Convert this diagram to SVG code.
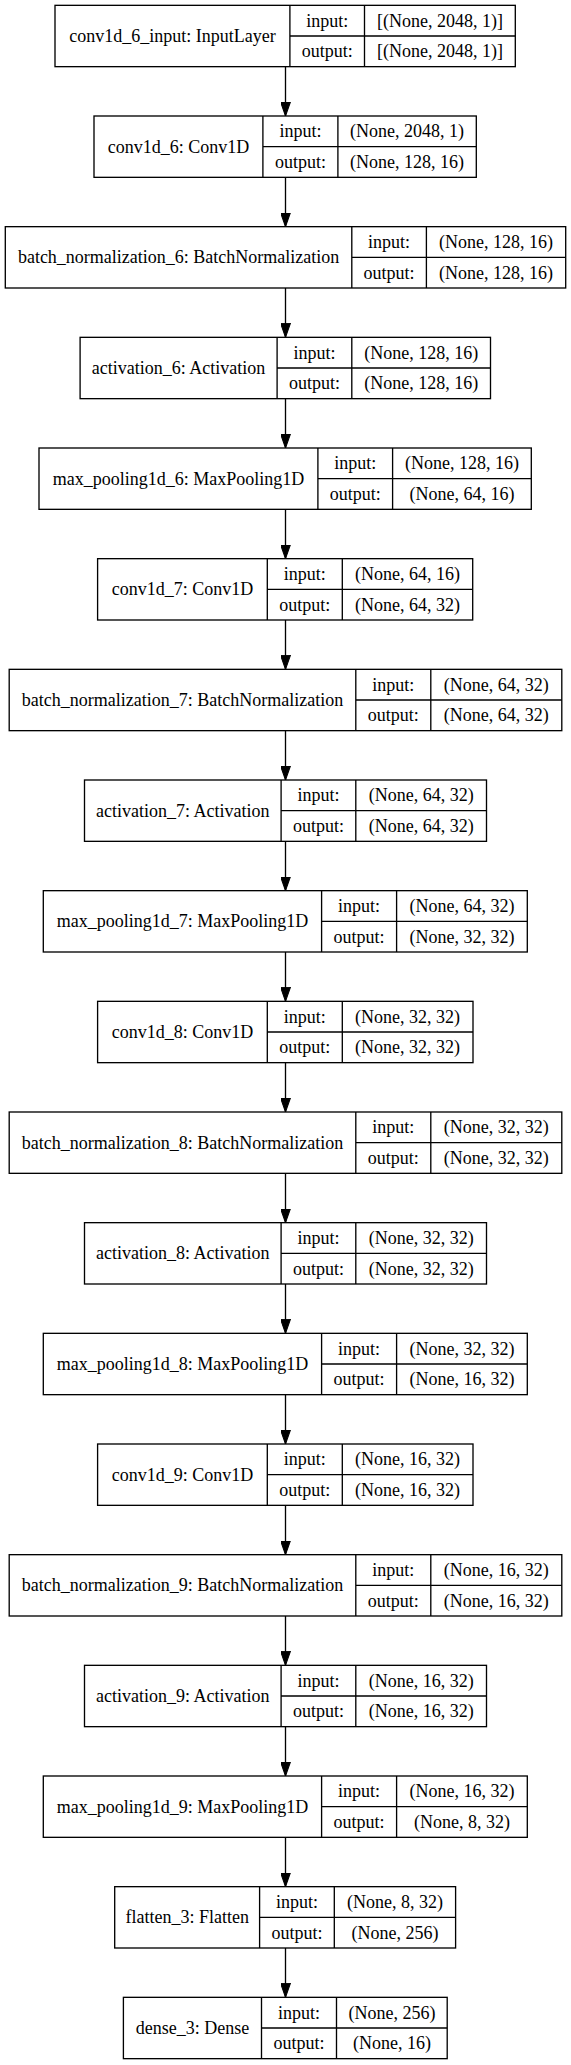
<svg xmlns="http://www.w3.org/2000/svg" width="571" height="2065" viewBox="0 0 571 2065">
<style>
.b{fill:#fff;stroke:#000;stroke-width:1.33}
.l{stroke:#000;stroke-width:1.33;fill:none}
.t{font-family:"Liberation Serif","Times New Roman",serif;font-size:18px;fill:#000;text-anchor:middle}
</style>
<defs>
<marker id="ah" markerUnits="userSpaceOnUse" markerWidth="14" markerHeight="10" viewBox="0 0 13.33 9.33" refX="13.33" refY="4.67" orient="auto">
<path d="M0,0 L13.33,4.67 L0,9.33 z" fill="#000" stroke="#000" stroke-width="1"/>
</marker>
</defs>
<rect width="571" height="2065" fill="#fff"/>
<g id="connectors">
<line class="l" x1="285.5" y1="66.67" x2="285.5" y2="116" marker-end="url(#ah)"/>
<line class="l" x1="285.5" y1="177.33" x2="285.5" y2="226.67" marker-end="url(#ah)"/>
<line class="l" x1="285.5" y1="288" x2="285.5" y2="337.33" marker-end="url(#ah)"/>
<line class="l" x1="285.5" y1="398.67" x2="285.5" y2="448" marker-end="url(#ah)"/>
<line class="l" x1="285.5" y1="509.33" x2="285.5" y2="558.67" marker-end="url(#ah)"/>
<line class="l" x1="285.5" y1="620" x2="285.5" y2="669.33" marker-end="url(#ah)"/>
<line class="l" x1="285.5" y1="730.67" x2="285.5" y2="780" marker-end="url(#ah)"/>
<line class="l" x1="285.5" y1="841.33" x2="285.5" y2="890.67" marker-end="url(#ah)"/>
<line class="l" x1="285.5" y1="952" x2="285.5" y2="1001.33" marker-end="url(#ah)"/>
<line class="l" x1="285.5" y1="1062.67" x2="285.5" y2="1112" marker-end="url(#ah)"/>
<line class="l" x1="285.5" y1="1173.33" x2="285.5" y2="1222.67" marker-end="url(#ah)"/>
<line class="l" x1="285.5" y1="1284" x2="285.5" y2="1333.33" marker-end="url(#ah)"/>
<line class="l" x1="285.5" y1="1394.67" x2="285.5" y2="1444" marker-end="url(#ah)"/>
<line class="l" x1="285.5" y1="1505.33" x2="285.5" y2="1554.67" marker-end="url(#ah)"/>
<line class="l" x1="285.5" y1="1616" x2="285.5" y2="1665.33" marker-end="url(#ah)"/>
<line class="l" x1="285.5" y1="1726.67" x2="285.5" y2="1776" marker-end="url(#ah)"/>
<line class="l" x1="285.5" y1="1837.33" x2="285.5" y2="1886.67" marker-end="url(#ah)"/>
<line class="l" x1="285.5" y1="1948" x2="285.5" y2="1997.33" marker-end="url(#ah)"/>
</g>
<g id="n1" transform="translate(0,5.33)">
<rect class="b" x="55" y="0" width="460.3" height="61.33"/>
<path class="l" d="M289.9,0V61.33M364.5,0V61.33M289.9,30.67H515.3"/>
<text class="t" x="172.5" y="36.5">conv1d_6_input: InputLayer</text>
<text class="t" x="327.2" y="21.3">input:</text><text class="t" x="439.9" y="21.3">[(None, 2048, 1)]</text>
<text class="t" x="327.2" y="52">output:</text><text class="t" x="439.9" y="52">[(None, 2048, 1)]</text>
</g>
<g id="n2" transform="translate(0,116)">
<rect class="b" x="94" y="0" width="382.3" height="61.33"/>
<path class="l" d="M262.9,0V61.33M337.9,0V61.33M262.9,30.67H476.3"/>
<text class="t" x="178.5" y="36.5">conv1d_6: Conv1D</text>
<text class="t" x="300.4" y="21.3">input:</text><text class="t" x="407.1" y="21.3">(None, 2048, 1)</text>
<text class="t" x="300.4" y="52">output:</text><text class="t" x="407.1" y="52">(None, 128, 16)</text>
</g>
<g id="n3" transform="translate(0,226.67)">
<rect class="b" x="5.3" y="0" width="560.4" height="61.33"/>
<path class="l" d="M351.8,0V61.33M426.4,0V61.33M351.8,30.67H565.7"/>
<text class="t" x="178.6" y="36.5">batch_normalization_6: BatchNormalization</text>
<text class="t" x="389.1" y="21.3">input:</text><text class="t" x="496" y="21.3">(None, 128, 16)</text>
<text class="t" x="389.1" y="52">output:</text><text class="t" x="496" y="52">(None, 128, 16)</text>
</g>
<g id="n4" transform="translate(0,337.33)">
<rect class="b" x="80.1" y="0" width="410.4" height="61.33"/>
<path class="l" d="M277.1,0V61.33M351.8,0V61.33M277.1,30.67H490.5"/>
<text class="t" x="178.6" y="36.5">activation_6: Activation</text>
<text class="t" x="314.5" y="21.3">input:</text><text class="t" x="421.2" y="21.3">(None, 128, 16)</text>
<text class="t" x="314.5" y="52">output:</text><text class="t" x="421.2" y="52">(None, 128, 16)</text>
</g>
<g id="n5" transform="translate(0,448)">
<rect class="b" x="39" y="0" width="492.3" height="61.33"/>
<path class="l" d="M317.9,0V61.33M392.6,0V61.33M317.9,30.67H531.3"/>
<text class="t" x="178.5" y="36.5">max_pooling1d_6: MaxPooling1D</text>
<text class="t" x="355.3" y="21.3">input:</text><text class="t" x="462" y="21.3">(None, 128, 16)</text>
<text class="t" x="355.3" y="52">output:</text><text class="t" x="462" y="52">(None, 64, 16)</text>
</g>
<g id="n6" transform="translate(0,558.67)">
<rect class="b" x="97.6" y="0" width="375.1" height="61.33"/>
<path class="l" d="M267.3,0V61.33M342.3,0V61.33M267.3,30.67H472.7"/>
<text class="t" x="182.5" y="36.5">conv1d_7: Conv1D</text>
<text class="t" x="304.8" y="21.3">input:</text><text class="t" x="407.5" y="21.3">(None, 64, 16)</text>
<text class="t" x="304.8" y="52">output:</text><text class="t" x="407.5" y="52">(None, 64, 32)</text>
</g>
<g id="n7" transform="translate(0,669.33)">
<rect class="b" x="9.2" y="0" width="552.6" height="61.33"/>
<path class="l" d="M355.8,0V61.33M430.8,0V61.33M355.8,30.67H561.8"/>
<text class="t" x="182.5" y="36.5">batch_normalization_7: BatchNormalization</text>
<text class="t" x="393.3" y="21.3">input:</text><text class="t" x="496.3" y="21.3">(None, 64, 32)</text>
<text class="t" x="393.3" y="52">output:</text><text class="t" x="496.3" y="52">(None, 64, 32)</text>
</g>
<g id="n8" transform="translate(0,780)">
<rect class="b" x="84.5" y="0" width="402" height="61.33"/>
<path class="l" d="M281.1,0V61.33M355.8,0V61.33M281.1,30.67H486.5"/>
<text class="t" x="182.8" y="36.5">activation_7: Activation</text>
<text class="t" x="318.5" y="21.3">input:</text><text class="t" x="421.2" y="21.3">(None, 64, 32)</text>
<text class="t" x="318.5" y="52">output:</text><text class="t" x="421.2" y="52">(None, 64, 32)</text>
</g>
<g id="n9" transform="translate(0,890.67)">
<rect class="b" x="43.3" y="0" width="484" height="61.33"/>
<path class="l" d="M321.6,0V61.33M396.6,0V61.33M321.6,30.67H527.3"/>
<text class="t" x="182.5" y="36.5">max_pooling1d_7: MaxPooling1D</text>
<text class="t" x="359.1" y="21.3">input:</text><text class="t" x="462" y="21.3">(None, 64, 32)</text>
<text class="t" x="359.1" y="52">output:</text><text class="t" x="462" y="52">(None, 32, 32)</text>
</g>
<g id="n10" transform="translate(0,1001.33)">
<rect class="b" x="97.6" y="0" width="375.4" height="61.33"/>
<path class="l" d="M267.3,0V61.33M342.3,0V61.33M267.3,30.67H473"/>
<text class="t" x="182.5" y="36.5">conv1d_8: Conv1D</text>
<text class="t" x="304.8" y="21.3">input:</text><text class="t" x="407.6" y="21.3">(None, 32, 32)</text>
<text class="t" x="304.8" y="52">output:</text><text class="t" x="407.6" y="52">(None, 32, 32)</text>
</g>
<g id="n11" transform="translate(0,1112)">
<rect class="b" x="9.2" y="0" width="552.6" height="61.33"/>
<path class="l" d="M355.8,0V61.33M430.8,0V61.33M355.8,30.67H561.8"/>
<text class="t" x="182.5" y="36.5">batch_normalization_8: BatchNormalization</text>
<text class="t" x="393.3" y="21.3">input:</text><text class="t" x="496.3" y="21.3">(None, 32, 32)</text>
<text class="t" x="393.3" y="52">output:</text><text class="t" x="496.3" y="52">(None, 32, 32)</text>
</g>
<g id="n12" transform="translate(0,1222.67)">
<rect class="b" x="84.5" y="0" width="402" height="61.33"/>
<path class="l" d="M281.1,0V61.33M355.8,0V61.33M281.1,30.67H486.5"/>
<text class="t" x="182.8" y="36.5">activation_8: Activation</text>
<text class="t" x="318.5" y="21.3">input:</text><text class="t" x="421.2" y="21.3">(None, 32, 32)</text>
<text class="t" x="318.5" y="52">output:</text><text class="t" x="421.2" y="52">(None, 32, 32)</text>
</g>
<g id="n13" transform="translate(0,1333.33)">
<rect class="b" x="43.3" y="0" width="484" height="61.33"/>
<path class="l" d="M321.6,0V61.33M396.6,0V61.33M321.6,30.67H527.3"/>
<text class="t" x="182.5" y="36.5">max_pooling1d_8: MaxPooling1D</text>
<text class="t" x="359.1" y="21.3">input:</text><text class="t" x="462" y="21.3">(None, 32, 32)</text>
<text class="t" x="359.1" y="52">output:</text><text class="t" x="462" y="52">(None, 16, 32)</text>
</g>
<g id="n14" transform="translate(0,1444)">
<rect class="b" x="97.6" y="0" width="375.4" height="61.33"/>
<path class="l" d="M267.3,0V61.33M342.3,0V61.33M267.3,30.67H473"/>
<text class="t" x="182.5" y="36.5">conv1d_9: Conv1D</text>
<text class="t" x="304.8" y="21.3">input:</text><text class="t" x="407.6" y="21.3">(None, 16, 32)</text>
<text class="t" x="304.8" y="52">output:</text><text class="t" x="407.6" y="52">(None, 16, 32)</text>
</g>
<g id="n15" transform="translate(0,1554.67)">
<rect class="b" x="9.2" y="0" width="552.6" height="61.33"/>
<path class="l" d="M355.8,0V61.33M430.8,0V61.33M355.8,30.67H561.8"/>
<text class="t" x="182.5" y="36.5">batch_normalization_9: BatchNormalization</text>
<text class="t" x="393.3" y="21.3">input:</text><text class="t" x="496.3" y="21.3">(None, 16, 32)</text>
<text class="t" x="393.3" y="52">output:</text><text class="t" x="496.3" y="52">(None, 16, 32)</text>
</g>
<g id="n16" transform="translate(0,1665.33)">
<rect class="b" x="84.5" y="0" width="402" height="61.33"/>
<path class="l" d="M281.1,0V61.33M355.8,0V61.33M281.1,30.67H486.5"/>
<text class="t" x="182.8" y="36.5">activation_9: Activation</text>
<text class="t" x="318.5" y="21.3">input:</text><text class="t" x="421.2" y="21.3">(None, 16, 32)</text>
<text class="t" x="318.5" y="52">output:</text><text class="t" x="421.2" y="52">(None, 16, 32)</text>
</g>
<g id="n17" transform="translate(0,1776)">
<rect class="b" x="43.3" y="0" width="484" height="61.33"/>
<path class="l" d="M321.6,0V61.33M396.6,0V61.33M321.6,30.67H527.3"/>
<text class="t" x="182.5" y="36.5">max_pooling1d_9: MaxPooling1D</text>
<text class="t" x="359.1" y="21.3">input:</text><text class="t" x="462" y="21.3">(None, 16, 32)</text>
<text class="t" x="359.1" y="52">output:</text><text class="t" x="462" y="52">(None, 8, 32)</text>
</g>
<g id="n18" transform="translate(0,1886.67)">
<rect class="b" x="114.7" y="0" width="340.9" height="61.33"/>
<path class="l" d="M259.6,0V61.33M334.3,0V61.33M259.6,30.67H455.6"/>
<text class="t" x="187.2" y="36.5">flatten_3: Flatten</text>
<text class="t" x="297" y="21.3">input:</text><text class="t" x="395" y="21.3">(None, 8, 32)</text>
<text class="t" x="297" y="52">output:</text><text class="t" x="395" y="52">(None, 256)</text>
</g>
<g id="n19" transform="translate(0,1997.33)">
<rect class="b" x="123.4" y="0" width="323.8" height="61.33"/>
<path class="l" d="M261.5,0V61.33M336.5,0V61.33M261.5,30.67H447.2"/>
<text class="t" x="192.5" y="36.5">dense_3: Dense</text>
<text class="t" x="299" y="21.3">input:</text><text class="t" x="391.9" y="21.3">(None, 256)</text>
<text class="t" x="299" y="52">output:</text><text class="t" x="391.9" y="52">(None, 16)</text>
</g>
</svg>
